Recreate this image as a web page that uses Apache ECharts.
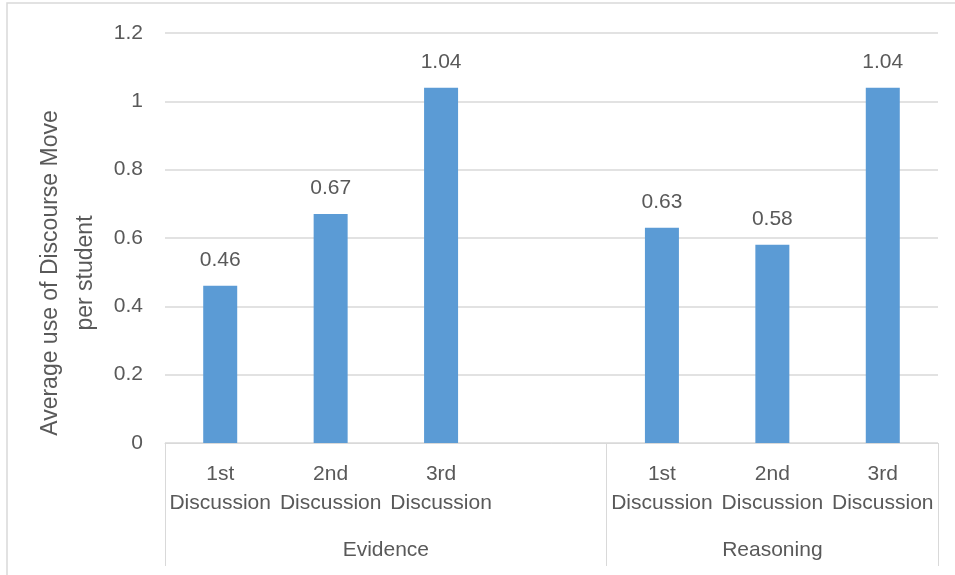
<!DOCTYPE html>
<html>
<head>
<meta charset="utf-8">
<script src="https://cdn.jsdelivr.net/npm/echarts@6/dist/echarts.min.js"></script>
<style>
  html, body { margin: 0; padding: 0; background: #ffffff; }
  #chart { width: 955px; height: 575px; }
</style>
</head>
<body>
<div id="chart"></div>
<script>
// Discourse move categories and discussion rounds
const groups = ['Evidence', 'Reasoning'];
const sessions = ['1st', '2nd', '3rd'];
const evidenceValues = [0.46, 0.67, 1.04];
const reasoningValues = [0.63, 0.58, 1.04];
const yTicks = [0, 0.2, 0.4, 0.6, 0.8, 1.0, 1.2];
const yTitle = 'Average use of Discourse Move\nper student';

// Build a flat category list: Evidence rounds, one spacer slot, Reasoning rounds
const sessionLabels = sessions.map(s => s + '\nDiscussion');
const categories = sessionLabels.concat(['']).concat(sessionLabels);
const values = evidenceValues.concat(['-']).concat(reasoningValues);

// Slot spans of each group on the flat axis (Evidence includes the spacer)
const groupSpans = [sessions.length + 1, sessions.length];
const groupStarts = [0, groupSpans[0]];
const groupCenters = groupSpans.map((n, i) => groupStarts[i] + n / 2);
const totalSlots = categories.length;

const textColor = '#595959';
const lineColor = '#d9d9d9';
const font = 'Liberation Sans';

const chart = echarts.init(document.getElementById('chart'), null, { renderer: 'canvas' });

chart.setOption({
  backgroundColor: '#ffffff',
  animation: false,
  graphic: [{
    type: 'rect',
    shape: { x: 7, y: 3, width: 1000, height: 1000 },
    style: { fill: 'none', stroke: lineColor, lineWidth: 1.5 },
    silent: true
  }],
  grid: {
    left: 165, right: 17, top: 33, bottom: 132,
    containLabel: false,
    outerBoundsMode: 'none'
  },
  xAxis: [{
    type: 'category',
    data: categories,
    boundaryGap: true,
    axisLine: { show: true, lineStyle: { color: lineColor, width: 1 } },
    axisTick: {
      show: true,
      interval: (i) => i === 0 || i === groupStarts[1],
      length: 123,
      lineStyle: { color: lineColor, width: 1 }
    },
    axisLabel: {
      interval: 0,
      color: textColor,
      fontFamily: font,
      fontSize: 21,
      lineHeight: 29,
      margin: 17
    },
    splitLine: { show: false }
  }, {
    type: 'value',
    position: 'bottom',
    min: 0,
    max: totalSlots,
    interval: 0.5,
    axisLine: { show: false },
    axisTick: { show: false },
    splitLine: { show: false },
    axisLabel: {
      color: textColor,
      fontFamily: font,
      fontSize: 21,
      margin: 97,
      formatter: (v) => {
        const k = groupCenters.findIndex(c => Math.abs(c - v) < 1e-6);
        return k >= 0 ? groups[k] : '';
      }
    }
  }],
  yAxis: {
    type: 'value',
    min: yTicks[0],
    max: yTicks[yTicks.length - 1],
    interval: 0.2,
    axisLine: { show: false },
    axisTick: { show: false },
    splitLine: { show: true, lineStyle: { color: lineColor, width: 1.5 } },
    axisLabel: {
      color: textColor,
      fontFamily: font,
      fontSize: 21,
      margin: 22,
      formatter: (v) => String(Math.round(v * 10) / 10)
    },
    name: yTitle,
    nameLocation: 'middle',
    nameRotate: 90,
    nameGap: 57,
    nameTextStyle: {
      color: textColor,
      fontFamily: font,
      fontSize: 23,
      lineHeight: 35,
      align: 'center',
      padding: [0, 70, 0, 0]
    }
  },
  series: [{
    type: 'bar',
    xAxisIndex: 0,
    data: values,
    barWidth: 34,
    itemStyle: { color: '#5b9bd5' },
    label: {
      show: true,
      position: 'top',
      distance: 15,
      color: textColor,
      fontFamily: font,
      fontSize: 21,
      formatter: (p) => String(p.value)
    }
  }]
});
</script>
</body>
</html>
